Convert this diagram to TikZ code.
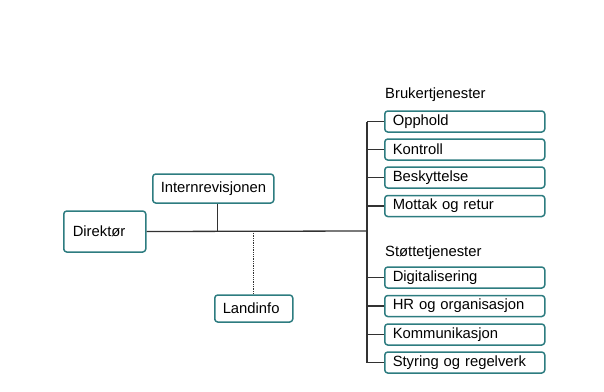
\documentclass[tikz,border=0pt]{standalone}
\usepackage{fontspec}
\setmainfont{Liberation Sans}
\definecolor{boxteal}{RGB}{45,124,128}
\definecolor{linegray}{RGB}{50,50,50}
\tikzset{
  unit/.style={draw=boxteal, line width=1.5pt, rounded corners=3pt, fill=white,
    anchor=west, align=left, inner xsep=8pt, inner ysep=0pt},
  service/.style={unit, text width=144pt, minimum height=21pt},
  link/.style={draw=linegray, line width=1.3pt},
  heading/.style={anchor=west, inner sep=0pt}
}
\begin{document}
\begin{tikzpicture}[x=1pt, y=-1pt, font=\fontsize{14.8}{16}\selectfont, line join=round]
		\useasboundingbox (0,0) rectangle (604,391);
		% top level
		\node[unit, text width=64pt, minimum height=41pt, inner xsep=9pt] (dir) at (63,231.5) {Direktør};
		\node[unit, text width=105pt, minimum height=29pt] (intern) at (152,188.5) {Internrevisjonen};
		\node[unit, text width=62pt, minimum height=27pt] (land) at (214,308.5) {Landinfo};
		\coordinate (bus) at (367,231);
		% brukertjenester
		\node[heading] (bruker) at (385,95) {Brukertjenester};
		\node[service] (opphold) at (384,121.5) {Opphold};
		\node[service] (kontroll) at (384,149.5) {Kontroll};
		\node[service] (beskytt) at (384,177.5) {Beskyttelse};
		\node[service] (mottak) at (384,206) {Mottak og retur};
		% stottetjenester
		\node[heading] (stotte) at (385,253) {Støttetjenester};
		\node[service] (digital) at (384,277.5) {Digitalisering};
		\node[service] (hr) at (384,306) {HR og organisasjon};
		\node[service] (kommun) at (384,334.5) {Kommunikasjon};
		\node[service] (styring) at (384,362.5) {Styring og regelverk};
		% lines
		\draw[link] (dir.east) -- (bus);
		\draw[link] ([xshift=4.5pt]intern.south) -- ([xshift=4.5pt]intern.south |- bus);
		\draw[link, densely dotted] (land.north) -- (land.north |- bus);
		\draw[link] (bus |- opphold.west) -- (bus |- styring.west);
		\draw[link] (bus |- opphold.west) -- (opphold.west) (bus |- kontroll.west) -- (kontroll.west) (bus |- beskytt.west) -- (beskytt.west) (bus |- mottak.west) -- (mottak.west);
		\draw[link] (bus |- digital.west) -- (digital.west) (bus |- hr.west) -- (hr.west) (bus |- kommun.west) -- (kommun.west) (bus |- styring.west) -- (styring.west);
\end{tikzpicture}
\end{document}
